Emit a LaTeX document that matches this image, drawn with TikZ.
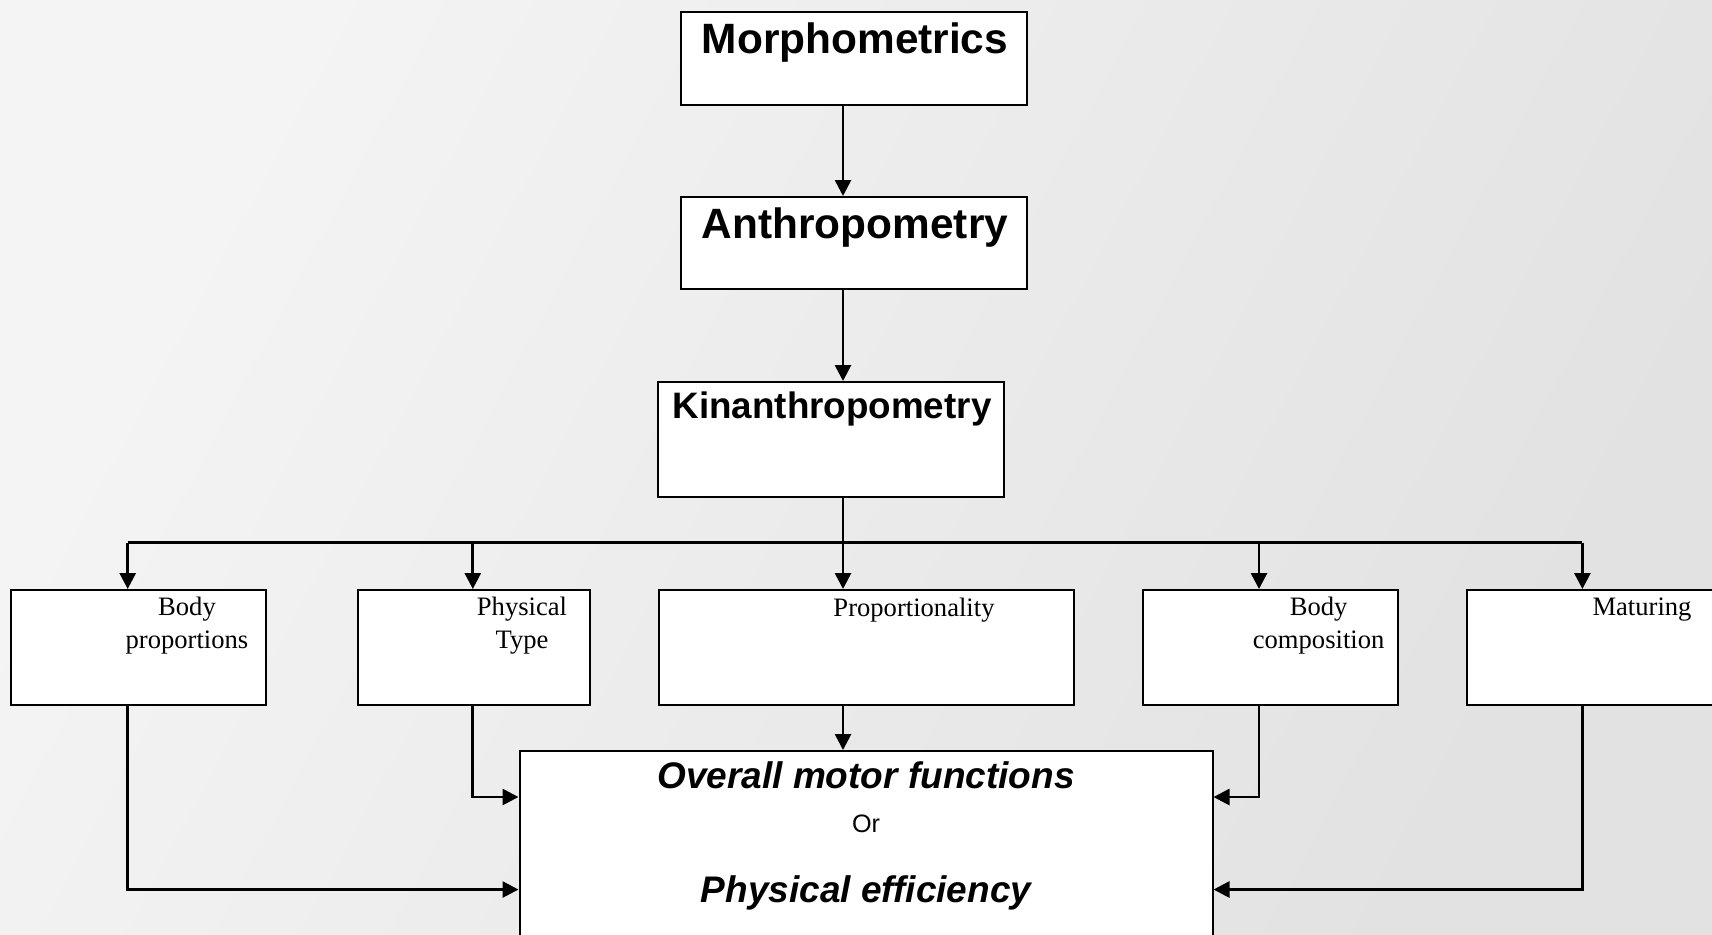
\documentclass[tikz,border=0pt]{standalone}
\usepackage{fontspec}
\setmainfont{Liberation Serif}
\newfontfamily\arialfont{Liberation Sans}
\usetikzlibrary{arrows.meta,fit}
\definecolor{bglight}{gray}{0.958}
\definecolor{bgdark}{gray}{0.885}
\begin{document}
\begin{tikzpicture}[x=0.5pt,y=-0.5pt,
  box/.style={draw=black, line width=1pt, fill=white, rectangle, inner sep=0pt},
  conn/.style={line width=1.35pt, -{Triangle[length=8pt,width=8pt]}},
  plainline/.style={line width=1.35pt},
  head/.style={font=\arialfont\bfseries\fontsize{21.2}{25}\selectfont, anchor=base, inner sep=0pt},
  kinhead/.style={font=\arialfont\bfseries\fontsize{18.4}{22}\selectfont, anchor=base, inner sep=0pt},
  small/.style={font=\fontsize{13.3}{16}\selectfont, anchor=base, inner sep=0pt},
  mainital/.style={font=\arialfont\bfseries\itshape\fontsize{18.5}{22}\selectfont, anchor=base, inner sep=0pt},
  ortext/.style={font=\arialfont\fontsize{12.6}{15}\selectfont, anchor=base, inner sep=0pt}]
\path[use as bounding box] (0,0) rectangle (1712,934);
\clip (0,0) rectangle (1712,934);
\shade[top color=bglight, bottom color=bgdark, shading angle=62] (0,0) rectangle (1712,934);

% boxes
\node[box, fit={(681,12) (1027,105)}] (morph) {};
\node[box, fit={(681,197) (1027,289)}] (anthro) {};
\node[box, fit={(658,382) (1004,497)}] (kin) {};
\node[box, fit={(11,590) (266,705)}] (bprop) {};
\node[box, fit={(358,590) (590,705)}] (ptype) {};
\node[box, fit={(658.5,590) (1074,705)}] (prop) {};
\node[box, fit={(1143,590) (1398,705)}] (bcomp) {};
\node[box, fit={(1467,590) (1721,705)}] (mat) {};
\node[box, fit={(519.5,751) (1212.5,960)}] (main) {};

% texts
\node[head] (tmorph) at (855,53) {Morphometrics};
\node[head] (tanthro) at (855,238) {Anthropometry};
\node[kinhead] (tkin) at (832,418) {Kinanthropometry};
\node[small] (tb1) at (187,615) {Body};
\node[small] (tb2) at (187,648) {proportions};
\node[small] (tp1) at (522,615) {Physical};
\node[small] (tp2) at (522,648) {Type};
\node[small] (tpr) at (914,616) {Proportionality};
\node[small] (tc1) at (1318.6,615) {Body};
\node[small] (tc2) at (1318.6,648) {composition};
\node[small] (tm) at (1642,615) {Maturing};
\node[mainital] (tov) at (866,788) {Overall motor functions};
\node[ortext] (tor) at (866,832) {Or};
\node[mainital] (tpe) at (866,902) {Physical efficiency};

% guide coordinates
\coordinate (spine) at (843,0);
\coordinate (bus) at (0,542.6);
\coordinate (xa) at (127.7,0);
\coordinate (xb) at (472.8,0);
\coordinate (xd) at (1259,0);
\coordinate (xe) at (1582.4,0);
\coordinate (upper) at (0,797);
\coordinate (lower) at (0,889.5);

% connectors
\draw[conn] (morph.south -| spine) -- (anthro.north -| spine);
\draw[conn] (anthro.south -| spine) -- (kin.north -| spine);
\draw[plainline] (kin.south -| spine) -- (bus -| spine);
\draw[plainline] (bus -| xa) -- (bus -| xe);
\draw[conn] (bus -| xa) -- (bprop.north -| xa);
\draw[conn] (bus -| xb) -- (ptype.north -| xb);
\draw[conn] (bus -| spine) -- (prop.north -| spine);
\draw[conn] (bus -| xd) -- (bcomp.north -| xd);
\draw[conn] (bus -| xe) -- (mat.north -| xe);
\draw[conn] (prop.south -| spine) -- (main.north -| spine);
\draw[conn] (ptype.south -| xb) |- (main.west |- upper);
\draw[conn] (bcomp.south -| xd) |- (main.east |- upper);
\draw[conn] (bprop.south -| xa) |- (main.west |- lower);
\draw[conn] (mat.south -| xe) |- (main.east |- lower);
\end{tikzpicture}
\end{document}
